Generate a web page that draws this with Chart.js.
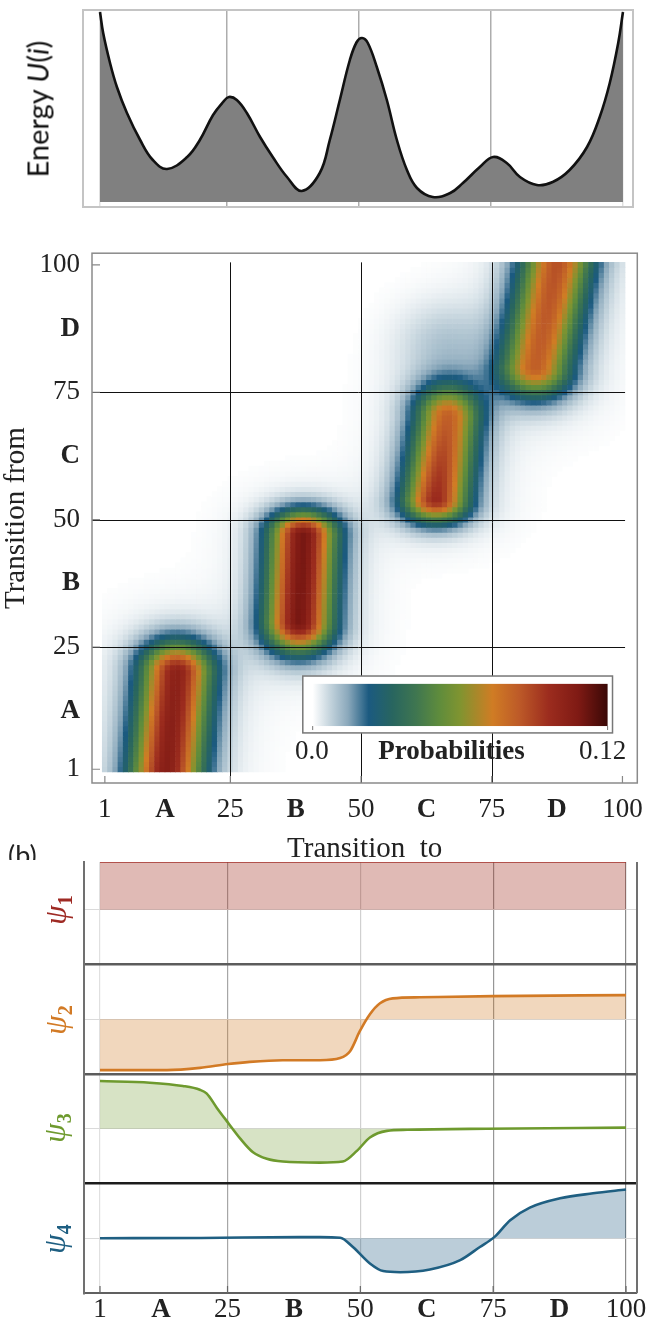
<!DOCTYPE html>
<html>
<head>
<meta charset="utf-8">
<script src="https://cdn.jsdelivr.net/npm/chart.js@4.4.1/dist/chart.umd.min.js"></script>
<style>
  html, body { margin: 0; padding: 0; background: #fff; }
  body { width: 654px; height: 1325px; position: relative; overflow: hidden; }
  canvas { position: absolute; left: 0; }
  #energy { top: 0; }
  #matrix { top: 225px; }
  #modes { top: 860px; background: #fff; }
  .rot { position: absolute; white-space: nowrap; line-height: 1; transform: translate(-50%, -50%) rotate(-90deg); }
  .psi { font-family: "Liberation Serif", "Times New Roman", serif; font-size: 31px; font-style: italic; }
  .psi sub { font-style: normal; font-weight: bold; font-size: 20px; vertical-align: -6px; }
</style>
</head>
<body>
<canvas id="energy" width="654" height="215"></canvas>
<div class="rot" style="left:37px;top:109px;font-family:Lato,'Open Sans',sans-serif;font-size:29px;color:#111;">Energy <i>U</i>(<i>i</i>)</div>
<canvas id="matrix" width="654" height="641"></canvas>
<div style="position:absolute;left:8px;top:841px;font-family:Lato,sans-serif;font-size:27px;line-height:1;color:#222;">(b)</div>
<canvas id="modes" width="654" height="465"></canvas>
<div class="rot psi" style="left:57px;top:910px;color:#9e2a24;">ψ<sub>1</sub></div>
<div class="rot psi" style="left:57px;top:1020px;color:#d27a25;">ψ<sub>2</sub></div>
<div class="rot psi" style="left:56px;top:1128px;color:#6e9a2e;">ψ<sub>3</sub></div>
<div class="rot psi" style="left:56px;top:1239px;color:#1f5f82;">ψ<sub>4</sub></div>

<script>
// ---- data ----
const tickValues = [1, 12.5, 25, 37.5, 50, 62.5, 75, 87.5, 100];
const tickText = ['1', 'A', '25', 'B', '50', 'C', '75', 'D', '100'];
const gridValues = [1, 25, 50, 75, 100];
const blockLines = [25, 50, 75];

// energy landscape U(i)
const energyI = [1, 1.6, 2.9, 4.2, 6.1, 8.6, 11.0, 13.7, 17.5, 19.9, 22.4, 24.3, 25.4, 26.9, 28.8, 31.3, 33.7, 36.4, 39.2,
  42.6, 44.5, 46.4, 48.3, 49.6, 50.6, 51.7, 53.4, 55.3, 57.2, 59.1, 61.0, 64.0, 67.3, 69.7, 72.9, 75.4, 78.0, 80.5, 83.7,
  86.7, 89.9, 93.2, 95.6, 97.5, 99.1, 100];
const energyU = [190, 169, 139, 115, 89, 62, 42, 33, 45, 62, 87, 100, 105, 102, 89, 65, 45, 25, 11,
  29, 62, 102, 142, 160, 164, 159, 135, 102, 62, 32, 14, 5, 9, 19, 35, 45, 39, 25, 17,
  20, 32, 55, 85, 119, 159, 190];

// transition matrix: four metastable blocks (rows = from, columns = to)
const blobRowLow    = [1, 30, 54, 80];
const blobRowHigh   = [20, 47, 70, 100];
const blobColLow    = [12.9, 38.2, 64.4, 83.5];
const blobColHigh   = [14.8, 39.0, 66.6, 87.5];
const blobHalfWidth = [8.5, 8.0, 7.8, 8.5];
const blobFadeLow   = [6, 7.4, 5.5, 7.3];
const blobFadeHigh  = [7.5, 5.8, 8, 6];
const blobPeakLow   = [0.098, 0.103, 0.090, 0.076];
const blobPeakHigh  = [0.096, 0.103, 0.076, 0.080];
const blobHaze      = [0.07, 0.06, 0.08, 0.08];
// faint plume above block C
const plumeRow = [85];
const plumeCol = [66];
const plumeRowSpread = [8];
const plumeColSpread = [9];
const plumeAmp = [0.008];

const probMax = 0.12;
const cmapPos = [0, 0.06, 0.12, 0.19, 0.27, 0.35, 0.43, 0.50, 0.61, 0.70, 0.80, 0.90, 1];
const cmapColour = ['#ffffff', '#c3d3dc', '#8aa8bb', '#1b5a80', '#28655f', '#3f7650', '#5f8c3c', '#809430', '#d07c24', '#bd5a28', '#9c2c1e', '#7f1a14', '#3a0806'];

// eigenvectors psi_1..psi_4 (each panel spans -1..1)
const psi1I = [1, 100];
const psi1V = [0.87, 0.87];
const psi2I = [1, 13.6, 19.8, 25.1, 29.2, 35.4, 42.4, 46.2, 48.1, 49.9, 51.8, 53.7, 56.1, 61.2, 75, 100];
const psi2V = [-0.93, -0.93, -0.89, -0.82, -0.78, -0.75, -0.75, -0.71, -0.58, -0.22, 0.09, 0.29, 0.38, 0.40, 0.42, 0.44];
const psi3I = [1, 10.4, 16.6, 19.8, 21.1, 23, 25.1, 27.4, 29.8, 32.4, 35.4, 42.4, 46.7, 49.4, 51.8, 55, 58.8, 73.8, 100];
const psi3V = [0.87, 0.84, 0.78, 0.71, 0.64, 0.38, 0.11, -0.18, -0.43, -0.55, -0.60, -0.62, -0.60, -0.40, -0.16, -0.04, -0.02, 0, 0.02];
const psi4I = [1, 20, 38.6, 42.4, 46.2, 48.6, 51.8, 54.3, 57.5, 63.1, 68.8, 72.5, 75.2, 78.2, 81.9, 87.6, 93.8, 100];
const psi4V = [0, 0.005, 0.02, 0.02, 0.01, -0.16, -0.46, -0.60, -0.62, -0.57, -0.40, -0.16, 0.02, 0.33, 0.56, 0.73, 0.82, 0.89];
const modeI = [psi1I, psi2I, psi3I, psi4I];
const modeV = [psi1V, psi2V, psi3V, psi4V];
const modeOffset = [6, 4, 2, 0];
const modeLine = ['#a3302a', '#d27a25', '#6e9a2e', '#1f5f82'];
const modeFill = ['rgba(160,45,30,0.33)', 'rgba(210,122,37,0.30)', 'rgba(110,154,46,0.28)', 'rgba(30,90,130,0.30)'];

const SERIF = '"Liberation Serif", "Times New Roman", serif';
Chart.defaults.animation = false;
Chart.defaults.events = [];
Chart.defaults.plugins.legend.display = false;
Chart.defaults.plugins.tooltip.enabled = false;
Chart.defaults.color = '#222';

const isLetter = (i) => /[A-D]/.test(tickText[i]);
const tickFont = (ctx) => ({ family: SERIF, size: 27, weight: isLetter(ctx.index) ? 'bold' : 'normal' });
const setTicks = (vals) => (scale) => { scale.ticks = vals.map(v => ({ value: v })); };

// ---- energy panel ----
function energyFrame() {
  return {
    id: 'energyFrame',
    afterDraw(chart) {
      const { ctx, chartArea: a } = chart;
      ctx.save();
      ctx.strokeStyle = '#c4c4c4';
      ctx.lineWidth = 2;
      ctx.strokeRect(a.left, a.top, a.right - a.left, a.bottom - a.top);
      ctx.restore();
    }
  };
}

new Chart(document.getElementById('energy'), {
  type: 'line',
  data: {
    datasets: [{
      data: energyI.map((x, k) => ({ x, y: energyU[k] })),
      borderColor: '#111',
      borderWidth: 2.6,
      backgroundColor: '#808080',
      fill: { value: 0 },
      pointRadius: 0,
      tension: 0.4
    }]
  },
  options: {
    responsive: false,
    layout: { padding: { left: 83, right: 21, top: 10, bottom: 8 } },
    scales: {
      x: {
        type: 'linear', min: -2.22, max: 101.9, z: 1,
        afterBuildTicks: setTicks(gridValues),
        afterFit: (s) => { s.height = 0; },
        ticks: { display: false },
        border: { display: false },
        grid: {
          drawTicks: false,
          color: (c) => (c.tick.value === 1 || c.tick.value === 100) ? 'rgba(0,0,0,0.12)' : 'rgba(0,0,0,0.32)',
          lineWidth: 1.5
        }
      },
      y: { display: false, min: -5, max: 192 }
    }
  },
  plugins: [energyFrame()]
});

// ---- transition matrix ----
const cmapRgb = cmapColour.map(h => [1, 3, 5].map(i => parseInt(h.slice(i, i + 2), 16)));
function colourFor(v) {
  const f = Math.min(1, Math.max(0, v / probMax));
  let k = 1;
  while (k < cmapPos.length - 1 && f > cmapPos[k]) k++;
  const t = (f - cmapPos[k - 1]) / (cmapPos[k] - cmapPos[k - 1]);
  const c = cmapRgb[k - 1].map((c0, j) => Math.round(c0 + t * (cmapRgb[k][j] - c0)));
  return `rgb(${c[0]},${c[1]},${c[2]})`;
}

function cellValue(row, col) {
  let v = 0;
  for (let b = 0; b < blobRowLow.length; b++) {
    const lo = blobRowLow[b], hi = blobRowHigh[b];
    const t = Math.min(1, Math.max(0, (row - lo) / (hi - lo)));
    const centre = blobColLow[b] + t * (blobColHigh[b] - blobColLow[b]);
    const peak = blobPeakLow[b] + t * (blobPeakHigh[b] - blobPeakLow[b]);
    const dr = row < lo ? (lo - row) / blobFadeLow[b] : row > hi ? (row - hi) / blobFadeHigh[b] : 0;
    const dc = Math.abs(col - centre) / blobHalfWidth[b];
    // value falls to 20% of the peak at the dark-blue rim (dc = 1)
    v += peak * Math.exp(-1.609 * (dc * dc + dr * dr));
    v += peak * blobHaze[b] * Math.exp(-1.609 * ((dc * dc + dr * dr) / 3.6));
  }
  for (let p = 0; p < plumeRow.length; p++) {
    const a = (row - plumeRow[p]) / plumeRowSpread[p];
    const c = (col - plumeCol[p]) / plumeColSpread[p];
    v += plumeAmp[p] * Math.exp(-(a * a + c * c));
  }
  return v;
}

const cells = [];
for (let row = 1; row <= 100; row++) {
  for (let col = 1; col <= 100; col++) {
    const v = cellValue(row, col);
    if (v > 0.0003) cells.push({ x: col, y: row, v });
  }
}

function matrixDecor() {
  return {
    id: 'matrixDecor',
    afterDatasetsDraw(chart) {
      const { ctx, chartArea: a, scales: { x, y } } = chart;
      ctx.save();
      // block boundaries
      ctx.strokeStyle = '#111';
      ctx.lineWidth = 1;
      blockLines.forEach(v => {
        const px = Math.round(x.getPixelForValue(v)) + 0.5;
        const py = Math.round(y.getPixelForValue(v)) + 0.5;
        ctx.beginPath();
        ctx.moveTo(px, a.bottom); ctx.lineTo(px, y.getPixelForValue(100.5));
        ctx.moveTo(a.left, py); ctx.lineTo(x.getPixelForValue(100.5), py);
        ctx.stroke();
      });
      // inward ticks
      ctx.strokeStyle = '#888';
      ctx.lineWidth = 1.2;
      gridValues.forEach(v => {
        const px = x.getPixelForValue(v), py = y.getPixelForValue(v);
        ctx.beginPath();
        ctx.moveTo(px, a.bottom); ctx.lineTo(px, a.bottom - 7);
        ctx.moveTo(a.left, py); ctx.lineTo(a.left + 8, py);
        ctx.stroke();
      });
      // frame
      ctx.strokeStyle = '#8a8a8a';
      ctx.lineWidth = 1.5;
      ctx.strokeRect(a.left, a.top, a.right - a.left, a.bottom - a.top);

      // colour bar
      const bx0 = x.getPixelForValue(38.86), bx1 = x.getPixelForValue(98.1);
      const by0 = y.getPixelForValue(19.3), by1 = y.getPixelForValue(8.13);
      const gx0 = x.getPixelForValue(40.75), gx1 = x.getPixelForValue(97.16);
      const gy0 = y.getPixelForValue(17.76), gy1 = y.getPixelForValue(9.48);
      ctx.fillStyle = '#fff';
      ctx.fillRect(bx0, by0, bx1 - bx0, by1 - by0);
      const grad = ctx.createLinearGradient(gx0, 0, gx1, 0);
      cmapPos.forEach((p, k) => grad.addColorStop(p, cmapColour[k]));
      ctx.fillStyle = grad;
      ctx.fillRect(gx0, gy0, gx1 - gx0, gy1 - gy0);
      ctx.strokeStyle = '#777';
      ctx.lineWidth = 1.5;
      ctx.strokeRect(bx0, by0, bx1 - bx0, by1 - by0);
      ctx.lineWidth = 1;
      ctx.beginPath();
      ctx.moveTo(gx0, gy1); ctx.lineTo(gx0, gy1 + 4);
      ctx.moveTo(gx1, gy1); ctx.lineTo(gx1, gy1 + 4);
      ctx.stroke();
      const ly = y.getPixelForValue(4.4);
      ctx.fillStyle = '#222';
      ctx.textBaseline = 'middle';
      ctx.textAlign = 'center';
      ctx.font = `27px ${SERIF}`;
      ctx.fillText('0.0', x.getPixelForValue(40.6), ly);
      ctx.fillText('0.12', x.getPixelForValue(96.2), ly);
      ctx.font = `bold 27px ${SERIF}`;
      ctx.fillText('Probabilities', x.getPixelForValue(67.3), ly);
      ctx.restore();
    }
  };
}

new Chart(document.getElementById('matrix'), {
  type: 'scatter',
  data: {
    datasets: [{
      data: cells,
      pointStyle: 'rect',
      pointBorderWidth: 0,
      pointRadius: (c) => {
        const xs = c.chart.scales.x, ys = c.chart.scales.y;
        const w = Math.abs(xs.getPixelForValue(2) - xs.getPixelForValue(1));
        const h = Math.abs(ys.getPixelForValue(2) - ys.getPixelForValue(1));
        return (Math.max(w, h) + 0.6) / Math.SQRT2;
      },
      pointBackgroundColor: (c) => colourFor(c.raw ? c.raw.v : 0)
    }]
  },
  options: {
    responsive: false,
    layout: { padding: { left: 0, right: 11, top: 18, bottom: 0 } },
    scales: {
      x: {
        type: 'linear', min: -1.46, max: 102.84,
        afterBuildTicks: setTicks(tickValues),
        afterFit: (s) => { s.height = 83; },
        grid: { display: false, drawTicks: false },
        border: { display: false },
        ticks: { autoSkip: false, maxRotation: 0, padding: 11, color: '#222', font: tickFont, callback: (v, i) => tickText[i] },
        title: { display: true, text: 'Transition  to', color: '#222', font: { family: SERIF, size: 29, lineHeight: 1 }, padding: { top: 0, bottom: 2 } }
      },
      y: {
        type: 'linear', min: -1.7, max: 102.3,
        afterBuildTicks: setTicks(tickValues),
        afterFit: (s) => { s.width = 92; },
        grid: { display: false, drawTicks: false },
        border: { display: false },
        ticks: { autoSkip: false, padding: 12, color: '#222', font: tickFont, callback: (v, i) => tickText[i] },
        title: { display: true, text: 'Transition from', color: '#222', font: { family: SERIF, size: 29, lineHeight: 1 }, padding: { top: 2, bottom: 0 } }
      }
    }
  },
  plugins: [matrixDecor()]
});

// ---- eigenvector panels ----
function modesDecor() {
  return {
    id: 'modesDecor',
    afterDraw(chart) {
      const { ctx, chartArea: a, scales: { x } } = chart;
      ctx.save();
      ctx.strokeStyle = '#707070';
      ctx.lineWidth = 2;
      ctx.beginPath();
      ctx.moveTo(a.right, a.top); ctx.lineTo(a.right, a.bottom);
      ctx.stroke();
      ctx.strokeStyle = '#666';
      ctx.lineWidth = 1.2;
      gridValues.forEach(v => {
        const px = x.getPixelForValue(v);
        ctx.beginPath();
        ctx.moveTo(px, a.bottom); ctx.lineTo(px, a.bottom - 7);
        ctx.stroke();
      });
      ctx.restore();
    }
  };
}

const xGridColour = { 1: '#e0e0e0', 25: '#a6a6a6', 50: '#d0d0d0', 75: '#969696', 100: '#8a8a8a' };
const yGridColour = { 0: '#dadada', 2: '#dadada', 4: '#dadada', 6: '#dadada', 1: '#1c1c1c', 3: '#5c5c5c', 5: '#5c5c5c' };

new Chart(document.getElementById('modes'), {
  type: 'line',
  data: {
    datasets: modeV.map((vals, k) => ({
      data: vals.map((v, j) => ({ x: modeI[k][j], y: v + modeOffset[k] })),
      borderColor: modeLine[k],
      backgroundColor: modeFill[k],
      borderWidth: k === 0 ? 1.5 : 2.6,
      fill: { value: modeOffset[k] },
      pointRadius: 0,
      cubicInterpolationMode: 'monotone'
    }))
  },
  options: {
    responsive: false,
    layout: { padding: { left: 0, right: 17, top: 2, bottom: 0 } },
    scales: {
      x: {
        type: 'linear', min: -2.01, max: 102.07,
        afterBuildTicks: setTicks(tickValues),
        afterFit: (s) => { s.height = 32; },
        grid: {
          drawTicks: false,
          color: (c) => xGridColour[c.tick.value] || 'rgba(0,0,0,0)',
          lineWidth: 1.2
        },
        border: { display: true, color: '#606060', width: 2 },
        ticks: { autoSkip: false, maxRotation: 0, padding: 1, color: '#222', font: tickFont, callback: (v, i) => tickText[i] }
      },
      y: {
        type: 'linear', min: -1, max: 6.87,
        afterBuildTicks: setTicks([-1, 0, 1, 2, 3, 4, 5, 6]),
        afterFit: (s) => { s.width = 84; },
        ticks: { display: false },
        grid: {
          drawTicks: false,
          color: (c) => yGridColour[c.tick.value] || 'rgba(0,0,0,0)',
          lineWidth: (c) => (c.tick.value % 2 === 1 || c.tick.value === -1) ? 2.5 : 1
        },
        border: { display: true, color: '#707070', width: 2 }
      }
    }
  },
  plugins: [modesDecor()]
});
</script>
</body>
</html>
